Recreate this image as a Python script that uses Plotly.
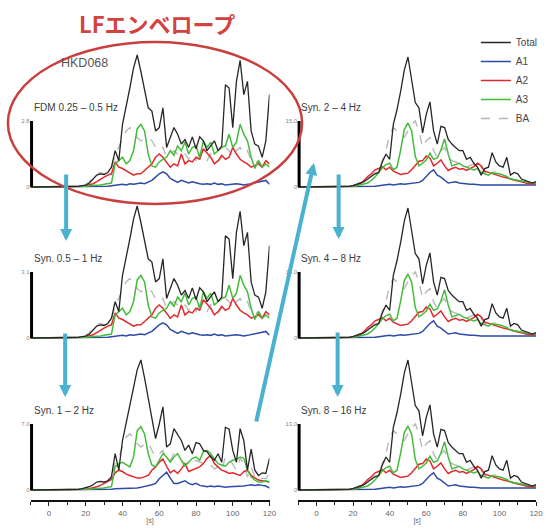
import plotly.graph_objects as go

W, H = 549, 528

# time axis [s]
T = list(range(-10, 121, 2))

# ---- amplitudes normalised to each panel's scale bar (bar = 1) ----
# low band (FDM 0.25-0.5 Hz, Syn. 0.5-1 Hz)
LOW_TOTAL = [0, 0, 0, 0, 0, 0, 0, 0, 0, 0, 0, 0, 0,
             0.01, 0.02, 0.03, 0.06, 0.12, 0.18, 0.2, 0.19, 0.22, 0.3,
             0.55, 0.4, 0.95, 1.2, 1.5, 1.8, 2.0, 1.75, 1.5, 1.2,
             1.15, 0.85, 0.9, 1.2, 0.6, 0.75, 0.9, 0.8, 0.65, 0.72,
             0.6, 0.76, 0.58, 0.76, 0.7, 0.55, 0.62, 0.7, 0.55, 0.62,
             1.55, 1.5, 0.9, 1.6, 1.92, 1.4, 1.6, 0.85, 0.65, 0.62,
             0.45, 0.7, 1.4]
LOW_A1 = [0, 0, 0, 0, 0, 0, 0, 0, 0, 0, 0, 0, 0,
          0.0, 0.0, 0.0, 0.01, 0.01, 0.01, 0.01, 0.01, 0.01, 0.02,
          0.03, 0.03, 0.04, 0.03, 0.05, 0.04, 0.05, 0.06, 0.05, 0.08,
          0.1, 0.15, 0.2, 0.23, 0.2, 0.13, 0.1, 0.07, 0.1, 0.08,
          0.06, 0.08, 0.06, 0.05, 0.04, 0.05, 0.04, 0.06, 0.04, 0.05,
          0.03, 0.04, 0.04, 0.05, 0.04, 0.03, 0.04, 0.05, 0.06, 0.07,
          0.08, 0.1, 0.04]
LOW_A2 = [0, 0, 0, 0, 0, 0, 0, 0, 0, 0, 0, 0, 0,
          0.0, 0.01, 0.02, 0.03, 0.05, 0.08, 0.12, 0.15, 0.18, 0.2,
          0.38, 0.3, 0.28, 0.25, 0.22, 0.18, 0.2, 0.2, 0.25, 0.3,
          0.35, 0.45, 0.5, 0.45, 0.38, 0.3, 0.35, 0.32, 0.5, 0.35,
          0.4, 0.38, 0.45, 0.42, 0.58, 0.52, 0.45, 0.35, 0.4, 0.48,
          0.42, 0.45, 0.6, 0.5, 0.42, 0.38, 0.35, 0.3, 0.32, 0.35,
          0.3, 0.4, 0.35]
LOW_A3 = [0, 0, 0, 0, 0, 0, 0, 0, 0, 0, 0, 0, 0,
          0.0, 0.01, 0.01, 0.02, 0.02, 0.03, 0.03, 0.04, 0.05, 0.06,
          0.35, 0.4, 0.45, 0.35, 0.4, 0.55, 0.88, 0.95, 0.85, 0.5,
          0.32, 0.3, 0.38, 0.42, 0.45, 0.55, 0.48, 0.62, 0.55, 0.68,
          0.5, 0.6, 0.62, 0.45, 0.7, 0.6, 0.68, 0.5, 0.55, 0.6,
          0.62, 0.8, 0.6, 0.68, 0.95, 0.8, 0.7, 0.45, 0.28, 0.4,
          0.3, 0.35, 0.3]
LOW_BA = [0, 0, 0, 0, 0, 0, 0, 0, 0, 0, 0, 0, 0,
          0.01, 0.02, 0.04, 0.08, 0.15, 0.2, 0.22, 0.2, 0.22, 0.28,
          0.5, 0.6, 0.75, 0.85, 0.9, 0.8, 0.75, 0.7, 0.72, 0.75,
          0.7, 0.6, 0.55, 0.6, 0.45, 0.5, 0.55, 0.5, 0.45, 0.5,
          0.42, 0.48, 0.4, 0.5, 0.45, 0.4, 0.5, 0.42, 0.38, 0.45,
          0.6, 0.55, 0.45, 0.55, 0.6, 0.5, 0.55, 0.4, 0.35, 0.4,
          0.3, 0.3, 0.35]

# mid band (Syn. 1-2 Hz)
MID_TOTAL = [0, 0, 0, 0, 0, 0, 0, 0, 0, 0, 0, 0, 0,
             0.01, 0.02, 0.03, 0.05, 0.08, 0.12, 0.13, 0.12, 0.14, 0.2,
             0.55, 0.3, 0.75, 1.0, 1.25, 1.55, 1.82, 1.97, 1.7, 1.4,
             1.1, 0.78, 1.0, 1.26, 0.65, 0.7, 0.93, 0.85, 0.75, 0.6,
             0.68, 0.55, 0.72, 0.7, 0.6, 0.58, 0.5, 0.45, 0.55, 0.42,
             0.95, 0.92, 0.6, 0.42, 0.93, 0.75, 0.3, 0.62, 0.3, 0.22,
             0.26, 0.25, 0.48]
MID_A1 = [0, 0, 0, 0, 0, 0, 0, 0, 0, 0, 0, 0, 0,
          0.0, 0.0, 0.0, 0.0, 0.01, 0.01, 0.01, 0.01, 0.01, 0.01,
          0.02, 0.02, 0.02, 0.02, 0.03, 0.03, 0.03, 0.04, 0.05, 0.06,
          0.08, 0.1, 0.17, 0.22, 0.27, 0.18, 0.1, 0.1, 0.12, 0.14,
          0.1, 0.08, 0.1, 0.07, 0.06, 0.05, 0.06, 0.05, 0.06, 0.05,
          0.04, 0.05, 0.05, 0.06, 0.05, 0.06, 0.07, 0.08, 0.07, 0.08,
          0.07, 0.06, 0.03]
MID_A2 = [0, 0, 0, 0, 0, 0, 0, 0, 0, 0, 0, 0, 0,
          0.0, 0.01, 0.01, 0.02, 0.03, 0.05, 0.07, 0.1, 0.12, 0.16,
          0.26, 0.3, 0.28, 0.24, 0.22, 0.2, 0.18, 0.18, 0.2, 0.22,
          0.3, 0.35, 0.42, 0.47, 0.36, 0.26, 0.3, 0.25, 0.32, 0.4,
          0.28, 0.3, 0.32, 0.35, 0.4, 0.48, 0.52, 0.4, 0.35, 0.3,
          0.28, 0.25, 0.26, 0.24, 0.22, 0.28, 0.3, 0.22, 0.18, 0.15,
          0.14, 0.13, 0.12]
MID_A3 = [0, 0, 0, 0, 0, 0, 0, 0, 0, 0, 0, 0, 0,
          0.0, 0.01, 0.01, 0.01, 0.02, 0.02, 0.03, 0.03, 0.04, 0.05,
          0.35, 0.4, 0.42, 0.38, 0.35, 0.5, 0.9, 0.96, 0.85, 0.55,
          0.38, 0.35, 0.45, 0.55, 0.5, 0.42, 0.5, 0.55, 0.45, 0.36,
          0.42, 0.48, 0.5, 0.45, 0.58, 0.6, 0.55, 0.48, 0.4, 0.38,
          0.36, 0.42, 0.45, 0.46, 0.5, 0.48, 0.3, 0.2, 0.15, 0.12,
          0.12, 0.14, 0.12]
MID_BA = [0, 0, 0, 0, 0, 0, 0, 0, 0, 0, 0, 0, 0,
          0.01, 0.02, 0.03, 0.05, 0.08, 0.11, 0.12, 0.12, 0.13, 0.18,
          0.4, 0.5, 0.65, 0.8, 0.85, 0.8, 0.7, 0.65, 0.7, 0.72,
          0.6, 0.5, 0.55, 0.6, 0.45, 0.45, 0.55, 0.5, 0.45, 0.4,
          0.42, 0.38, 0.45, 0.42, 0.4, 0.42, 0.38, 0.32, 0.35, 0.3,
          0.5, 0.48, 0.38, 0.3, 0.48, 0.4, 0.2, 0.35, 0.2, 0.15,
          0.18, 0.17, 0.25]

# high bands (Syn. 2-4, 4-8, 8-16 Hz)
HIGH_TOTAL = [0, 0, 0, 0, 0, 0, 0, 0, 0, 0, 0, 0, 0,
              0.0, 0.01, 0.02, 0.04, 0.06, 0.08, 0.12, 0.16, 0.2, 0.22,
              0.38, 0.5, 0.42, 0.95, 1.17, 1.45, 1.77, 1.97, 1.62, 1.28,
              1.2, 0.82, 1.1, 1.29, 0.85, 0.65, 0.92, 0.9, 0.72, 0.65,
              0.6, 0.55, 0.55, 0.42, 0.45, 0.36, 0.3, 0.18, 0.28, 0.3,
              0.52, 0.38, 0.32, 0.3, 0.45, 0.18, 0.22, 0.2, 0.12, 0.1,
              0.07, 0.06, 0.08]
HIGH_A1 = [0, 0, 0, 0, 0, 0, 0, 0, 0, 0, 0, 0, 0,
           0.0, 0.0, 0.0, 0.0, 0.0, 0.0, 0.0, 0.01, 0.01, 0.02,
           0.03, 0.03, 0.04, 0.03, 0.04, 0.05, 0.04, 0.05, 0.05, 0.06,
           0.07, 0.1, 0.16, 0.22, 0.26, 0.18, 0.15, 0.1, 0.06, 0.07,
           0.08, 0.06, 0.05, 0.05, 0.04, 0.04, 0.03, 0.03, 0.03, 0.03,
           0.03, 0.03, 0.03, 0.03, 0.03, 0.03, 0.03, 0.03, 0.03, 0.03,
           0.03, 0.03, 0.03]
HIGH_A2 = [0, 0, 0, 0, 0, 0, 0, 0, 0, 0, 0, 0, 0,
           0.0, 0.01, 0.02, 0.03, 0.05, 0.1, 0.16, 0.2, 0.26, 0.28,
           0.31, 0.26, 0.3, 0.24, 0.22, 0.19, 0.2, 0.21, 0.26, 0.33,
           0.39, 0.4, 0.47, 0.44, 0.32, 0.36, 0.41, 0.32, 0.25, 0.28,
           0.3, 0.27, 0.28, 0.25, 0.28, 0.31, 0.36, 0.32, 0.24, 0.22,
           0.2, 0.18, 0.16, 0.15, 0.14, 0.12, 0.1, 0.09, 0.08, 0.06,
           0.05, 0.05, 0.05]
HIGH_A3 = [0, 0, 0, 0, 0, 0, 0, 0, 0, 0, 0, 0, 0,
           0.0, 0.0, 0.01, 0.02, 0.03, 0.04, 0.06, 0.1, 0.15, 0.22,
           0.29, 0.34, 0.36, 0.26, 0.3, 0.56, 0.87, 0.97, 0.85, 0.46,
           0.32, 0.36, 0.41, 0.51, 0.42, 0.44, 0.56, 0.73, 0.5, 0.32,
           0.34, 0.36, 0.32, 0.3, 0.27, 0.26, 0.28, 0.22, 0.2, 0.18,
           0.22, 0.2, 0.2, 0.18, 0.16, 0.12, 0.11, 0.09, 0.08, 0.07,
           0.06, 0.06, 0.06]
HIGH_BA = [0, 0, 0, 0, 0, 0, 0, 0, 0, 0, 0, 0, 0,
           0.0, 0.01, 0.02, 0.04, 0.07, 0.1, 0.14, 0.18, 0.22, 0.25,
           0.4, 0.55, 0.8, 0.9, 0.85, 0.8, 0.75, 0.85, 0.95, 1.0,
           0.85, 0.6, 0.7, 0.75, 0.55, 0.45, 0.55, 0.6, 0.45, 0.4,
           0.38, 0.36, 0.34, 0.3, 0.32, 0.35, 0.38, 0.3, 0.22, 0.2,
           0.25, 0.22, 0.2, 0.18, 0.15, 0.12, 0.1, 0.1, 0.08, 0.07,
           0.06, 0.06, 0.06]

SERIES_NAMES = ["Total", "A1", "A2", "A3", "BA"]
LOW = [LOW_TOTAL, LOW_A1, LOW_A2, LOW_A3, LOW_BA]
MID = [MID_TOTAL, MID_A1, MID_A2, MID_A3, MID_BA]
HIGH = [HIGH_TOTAL, HIGH_A1, HIGH_A2, HIGH_A3, HIGH_BA]
for grp in (LOW, MID, HIGH):
    for s in grp:
        assert len(s) == len(T), len(s)

PANEL_LABELS = ["FDM 0.25 – 0.5 Hz", "Syn. 0.5 – 1 Hz", "Syn. 1 – 2 Hz",
                "Syn. 2 – 4 Hz", "Syn. 4 – 8 Hz", "Syn. 8 – 16 Hz"]
SCALE_LABELS = ["2.8", "3.1", "7.0", "15.0", "15.0", "13.0"]
PANEL_DATA = [LOW, LOW, MID, HIGH, HIGH, HIGH]
X_TICKS = [0, 20, 40, 60, 80, 100, 120]

# ---- styling ----
STYLE = {
    "Total": dict(color="#262626", width=1.3, dash="solid"),
    "A1": dict(color="#2e4aa8", width=1.5, dash="solid"),
    "A2": dict(color="#e3282c", width=1.5, dash="solid"),
    "A3": dict(color="#45bb3c", width=1.5, dash="solid"),
    "BA": dict(color="#b5b5b5", width=1.3, dash="dash"),
}
DRAW_ORDER = ["BA", "A1", "A2", "A3", "Total"]
RANK = {"Total": 1, "A1": 2, "A2": 3, "A3": 4, "BA": 5}

COL_PX = [(31, 273), (302, 543)]
BASE_PX = [187, 338, 490]
PPU = 66.0
YMIN, YMAX = -0.05, 2.1
AXIS_PX = 501
FONT = "Liberation Sans, Arial, sans-serif"


def fx(p):
    return p / W


def fy(p):
    return 1 - p / H


fig = go.Figure()
layout = dict(
    width=W, height=H, margin=dict(l=0, r=0, t=0, b=0),
    paper_bgcolor="white", plot_bgcolor="rgba(0,0,0,0)",
    font=dict(family=FONT, color="#444"),
    showlegend=True,
    legend=dict(x=fx(482), y=fy(28), xanchor="left", yanchor="top",
                bgcolor="rgba(0,0,0,0)", font=dict(size=10, color="#444"),
                tracegroupgap=0, traceorder="normal", itemwidth=30),
)
shapes = []
annotations = []

for i in range(6):
    n = i + 1
    col, row = divmod(i, 3)
    xname = "x" if n == 1 else f"x{n}"
    yname = "y" if n == 1 else f"y{n}"
    xk = "xaxis" if n == 1 else f"xaxis{n}"
    yk = "yaxis" if n == 1 else f"yaxis{n}"
    x0p, x1p = COL_PX[col]
    base = BASE_PX[row]
    data = dict(zip(SERIES_NAMES, PANEL_DATA[i]))

    for name in DRAW_ORDER:
        st = STYLE[name]
        fig.add_trace(go.Scatter(
            x=T, y=data[name], mode="lines", name=name,
            line=dict(color=st["color"], width=st["width"], dash=st["dash"]),
            xaxis=xname, yaxis=yname, showlegend=(i == 0),
            legendrank=RANK[name], hoverinfo="skip"))

    ydom = [fy(base - YMIN * PPU), fy(base - YMAX * PPU)]
    layout[yk] = dict(domain=ydom, range=[YMIN, YMAX], anchor=xname,
                      showgrid=False, zeroline=False, showline=False,
                      ticks="", tickvals=[0, 1], ticktext=["0", SCALE_LABELS[i]],
                      tickfont=dict(size=6, color="#888"), fixedrange=True)
    xa = dict(domain=[fx(x0p), fx(x1p)], range=[-10, 120],
              showgrid=False, zeroline=False, fixedrange=True)
    if row == 2:
        xa.update(anchor="free", position=fy(AXIS_PX), showline=True,
                  linecolor="#111", linewidth=2, ticks="outside", ticklen=4,
                  tickwidth=1, tickcolor="#222", tickvals=X_TICKS,
                  minor=dict(dtick=10, tick0=0, ticks="outside", ticklen=3,
                             tickcolor="#222", tickwidth=1),
                  tickfont=dict(size=8, color="#666"),
                  ticklabeloverflow="allow",
                  title=dict(text="[s]", font=dict(size=7, color="#666"), standoff=1))
    else:
        xa.update(anchor=yname, visible=False)
    layout[xk] = xa

    # scale bar (0 .. scale value)
    shapes.append(dict(type="line", xref=f"{xname} domain", yref=yname,
                       x0=0.004, x1=0.004, y0=0, y1=1,
                       line=dict(color="black", width=3), layer="above"))
    # panel label
    annotations.append(dict(text=PANEL_LABELS[i], xref="paper", yref="paper",
                            x=fx(x0p + 1), y=fy(base - 79.5),
                            xanchor="left", yanchor="middle", showarrow=False,
                            font=dict(size=10, color="#3c3c3c", family=FONT)))

# station name
annotations.append(dict(text="HKD068", xref="paper", yref="paper",
                        x=fx(86), y=fy(63), xanchor="center", yanchor="middle",
                        showarrow=False, font=dict(size=12.5, color="#555", family=FONT)))
# red overlay title + ellipse
annotations.append(dict(text="LFエンベロープ", xref="paper", yref="paper",
                        x=fx(159), y=fy(23), xanchor="center", yanchor="middle",
                        showarrow=False,
                        font=dict(size=22, color="#d2433f", family="Noto Sans CJK JP",
                                  weight="bold")))
shapes.append(dict(type="circle", xref="paper", yref="paper",
                   x0=fx(8), x1=fx(306), y0=fy(204), y1=fy(42),
                   line=dict(color="#c8403e", width=2.5), layer="above"))

# blue arrows: (tip_x, tip_y, tail_x, tail_y) in pixels
ARROWS = [(67, 241, 67, 173), (66, 397, 66, 332), (318, 163, 260, 423),
          (343, 239, 343, 173), (342, 397, 342, 331)]
for tx, ty, sx, sy in ARROWS:
    annotations.append(dict(text="", xref="paper", yref="paper",
                            x=fx(tx), y=fy(ty), ax=sx - tx, ay=sy - ty,
                            axref="pixel", ayref="pixel", showarrow=True,
                            arrowhead=2, arrowsize=0.6, arrowwidth=4,
                            arrowcolor="#4ab2cf", standoff=0, startstandoff=0))

layout["shapes"] = shapes
layout["annotations"] = annotations
fig.update_layout(**layout)
fig.write_html("out.html")
